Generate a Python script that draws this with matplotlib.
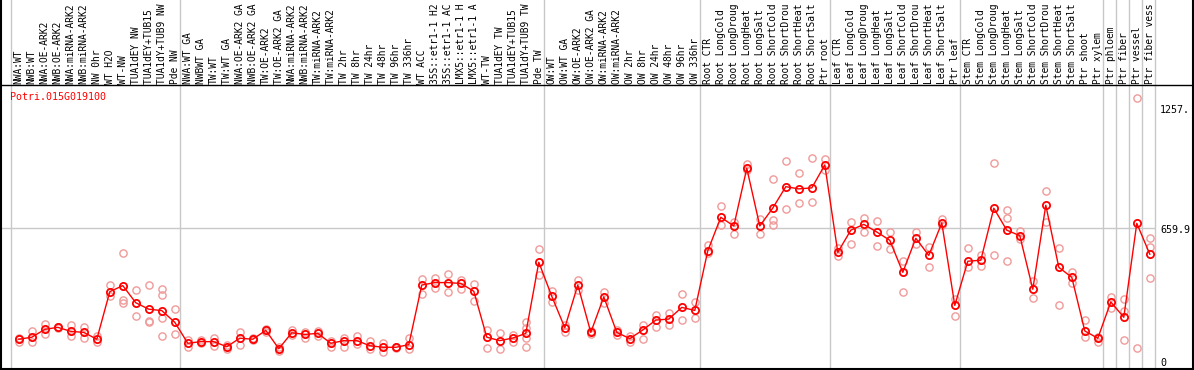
import matplotlib
matplotlib.use("Agg")
import matplotlib.pyplot as plt
from matplotlib.lines import Line2D

title = "Potri.015G019100"

groups = [
    ["NWA:WT", "NWB:WT", "NWA:OE-ARK2", "NWB:OE-ARK2", "NWA:miRNA-ARK2",
     "NWB:miRNA-ARK2", "NW 0hr", "WT H2O", "WT-NW", "TUA1dEY NW",
     "TUA1dEY+TUB15 NW", "TUA1dY+TUB9 NW", "Pde NW"],
    ["NWA:WT GA", "NWBWT GA", "TW:WT", "TW:WT GA", "NWA:OE-ARK2 GA",
     "NWB:OE-ARK2 GA", "TW:OE-ARK2", "TW:OE-ARK2 GA", "NWA:miRNA-ARK2 GA",
     "NWB:miRNA-ARK2 GA", "TW:miRNA-ARK2", "TW:miRNA-ARK2 GA", "TW 2hr",
     "TW 8hr", "TW 24hr", "TW 48hr", "TW 96hr", "TW 336hr", "WT ACC",
     "35S::etr1-1 H2O", "35S::etr1-1 ACC", "LMX5::etr1-1 H2O",
     "LMX5::etr1-1 ACC", "WT-TW", "TUA1dEY TW", "TUA1dEY+TUB15 TW",
     "TUA1dY+TUB9 TW", "Pde TW"],
    ["OW:WT", "OW:WT GA", "OW:OE-ARK2", "OW:OE-ARK2 GA", "OW:miRNA-ARK2",
     "OW:miRNA-ARK2 GA", "OW 2hr", "OW 8hr", "OW 24hr", "OW 48hr",
     "OW 96hr", "OW 336hr"],
    ["Root CTR", "Root LongCold", "Root LongDrought", "Root LongHeat",
     "Root LongSalt", "Root ShortCold", "Root ShortDrought",
     "Root ShortHeat", "Root ShortSalt", "Ptr root"],
    ["Leaf CTR", "Leaf LongCold", "Leaf LongDrought", "Leaf LongHeat",
     "Leaf LongSalt", "Leaf ShortCold", "Leaf ShortDrought",
     "Leaf ShortHeat", "Leaf ShortSalt", "Ptr leaf"],
    ["Stem CTR", "Stem LongCold", "Stem LongDrought", "Stem LongHeat",
     "Stem LongSalt", "Stem ShortCold", "Stem ShortDrought",
     "Stem ShortHeat", "Stem ShortSalt", "Ptr shoot", "Ptr xylem"],
    ["Ptr phloem"],
    ["Ptr fiber"],
    ["Ptr vessel"],
    ["Ptr fiber vessel"],
]

means = [108, 118, 157, 167, 147, 142, 108, 344, 374, 289, 257, 250, 192,
         88, 96, 96, 71, 113, 108, 152, 61, 140, 132, 137, 88, 101, 101, 76,
         68, 68, 81, 377, 389, 389, 385, 346, 118, 101, 114, 137, 490,
         321, 165, 377, 142, 318, 142, 111, 154, 203, 208, 266, 251,
         547, 713, 670, 956, 670, 759, 865, 854, 859, 973,
         539, 649, 678, 640, 599, 440, 609, 524, 685, 276,
         495, 500, 758, 649, 622, 356, 773, 465, 415, 149, 113,
         293, 217, 683, 530]

reps = [
    [96, 113], [151, 93], [182, 134], [170, 164], [179, 124], [170, 113],
    [124, 93], [377, 324], [534, 303, 286], [351, 222], [377, 197, 192],
    [356, 326, 213, 126], [257, 132],
    [104, 68], [104, 88], [113, 76], [79, 58], [142, 79], [113, 104],
    [161, 146], [71, 51], [154, 129], [146, 113], [151, 124], [101, 71],
    [113, 71], [124, 84], [101, 58], [88, 46], [71, 63], [113, 58],
    [407, 331], [410, 364], [430, 341], [402, 357], [381, 298], [154, 63],
    [137, 58], [129, 93], [192, 162, 113, 71], [554, 427],
    [347, 294], [179, 146], [402, 352], [151, 134], [344, 286], [129, 154],
    [124, 93], [179, 109], [228, 170], [237, 177], [333, 203], [294, 212],
    [576, 534], [771, 675], [692, 629], [978, 948], [705, 629],
    [903, 700, 675], [993, 754], [933, 783], [1006, 788], [1003, 948],
    [559, 523], [692, 581], [711, 639], [695, 569], [642, 554],
    [498, 342], [642, 581], [567, 467], [703, 675], [308, 222],
    [561, 465], [526, 470], [981, 526], [749, 708, 495], [647, 607],
    [399, 311], [844, 690], [559, 278], [443, 389], [203, 121], [96, 121],
    [319, 261], [308, 250, 104], [1304, 65], [609, 564, 410],
]

ytick_vals = [0, 659.9, 1257]
ytick_labels = ["0", "659.9", "1257."]

W, H = 1194, 370
fig = plt.figure(figsize=(W / 100, H / 100), dpi=100)
# plot area in pixels: x 1..1155, y 85..369 (from top)
ax = fig.add_axes([1 / W, 1 / H, 1154 / W, 284 / H])
for s in ax.spines.values():
    s.set_visible(False)
ax.set_xticks([])
ax.set_yticks([])

px_per_cat = 13.0
x0_px = 11.0
ax.set_xlim((1 - x0_px) / px_per_cat, (1155 - x0_px) / px_per_cat)
# 0 -> 361px, 659.9 -> 228px
scale = 133 / 659.9
ax.set_ylim(-(369 - 361) / scale, (361 - 85) / scale)

labels = [lab for g in groups for lab in g]
xs = [i + 0.6 for i in range(len(labels))]

grid_c = "#c8c8c8"
header_top = 1 + 85 / 284
bounds = [0]
for g in groups:
    bounds.append(bounds[-1] + len(g))
for b in bounds:
    ax.axvline(b, ymin=0, ymax=header_top, color=grid_c, lw=1, clip_on=False, zorder=0)
ax.axhline(659.9, color=grid_c, lw=1, zorder=0)

for x, r in zip(xs, reps):
    ax.plot([x] * len(r), r, ls="none", marker="o", ms=5.2, mfc="none",
            mec="#f09a9a", mew=1.0, zorder=2)
ax.plot(xs, means, color="#ff0000", lw=1, marker="o", ms=5.2, mfc="none",
        mec="#ff0000", mew=1.3, zorder=3)

# header labels: the header only has room for about 14 characters
mono = "DejaVu Sans Mono"
for x, lab in zip(xs, labels):
    ax.text(x, 1 + 1.5 / 284, lab[:14], transform=ax.get_xaxis_transform(),
            rotation=90, ha="center", va="bottom", fontsize=6.9,
            family=mono, clip_on=False)

ax.text(9 / 1154, 1 - 12 / 284, title, transform=ax.transAxes, color="#ff0000",
        fontsize=7.2, family=mono, ha="left", va="center")

for v, t in zip(ytick_vals, ytick_labels):
    ax.annotate(t, xy=(1, v), xycoords=ax.get_yaxis_transform(),
                xytext=(5, -2), textcoords="offset pixels",
                ha="left", va="center", fontsize=7.2, family=mono,
                annotation_clip=False)

# frame lines across the whole image
fig.add_artist(Line2D([0, 1], [1 - 85 / H, 1 - 85 / H], color="black", lw=1))
fig.add_artist(Line2D([0, 1], [1 / H, 1 / H], color="black", lw=1.5))
fig.add_artist(Line2D([1 / W, 1 / W], [0, 1], color="black", lw=1.5))
fig.add_artist(Line2D([1 - 1 / W, 1 - 1 / W], [0, 1], color="black", lw=1.5))

fig.savefig("out.png", dpi=100)
